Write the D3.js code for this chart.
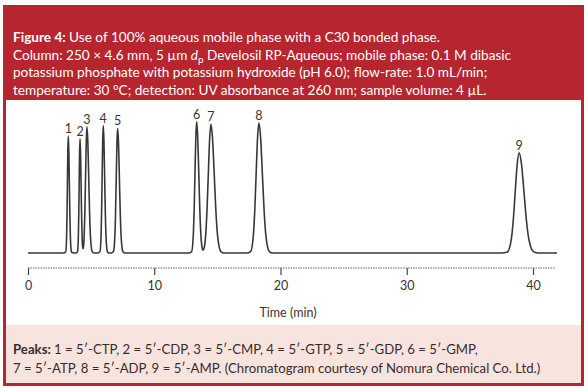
<!DOCTYPE html>
<html>
<head>
<meta charset="utf-8">
<script src="https://cdn.jsdelivr.net/npm/d3@7"></script>
<style>
  body { margin: 0; background: #fff; }
  svg { display: block; }
</style>
</head>
<body>
<div id="chart"></div>
<script>
// trace (time in min, signal in arbitrary units)
var traceTime = [
  0, 2.8,
  2.99, 3.056, 3.09, 3.123, 3.156, 3.19, 3.232, 3.274, 3.316, 3.358, 3.44, 3.55,
  3.8,
  3.92, 3.986, 4.02, 4.053, 4.086, 4.12, 4.162, 4.204, 4.246, 4.288, 4.33, 4.37, 4.40,
  4.45, 4.505, 4.56, 4.615, 4.67, 4.739, 4.808, 4.876, 4.945, 5.083, 5.22,
  5.55,
  5.70, 5.786, 5.83, 5.873, 5.917, 5.96, 6.015, 6.069, 6.124, 6.178, 6.287, 6.40,
  6.6,
  6.77, 6.88, 6.935, 6.99, 7.045, 7.10, 7.169, 7.238, 7.306, 7.375, 7.513, 7.65,
  12.7,
  12.958, 13.092, 13.159, 13.226, 13.293, 13.36, 13.444, 13.528, 13.611, 13.695, 13.78, 13.863, 13.965,
  14.07, 14.175, 14.28, 14.385, 14.49, 14.621, 14.753, 14.884, 15.015, 15.278, 15.54,
  17.3,
  17.63, 17.85, 17.96, 18.07, 18.18, 18.29, 18.428, 18.565, 18.703, 18.84, 19.115, 19.39,
  37.5,
  37.97, 38.28, 38.435, 38.59, 38.745, 38.9, 39.094, 39.288, 39.481, 39.675, 40.063, 40.45,
  41.9
];
var traceSignal = [
  0, 0,
  1.0, 12.2, 29.3, 54.6, 79.4, 90, 79.4, 54.6, 29.3, 12.2, 1.0, 0.2,
  0,
  1.0, 11.9, 28.6, 53.4, 77.6, 88, 77.6, 53.4, 28.6, 11.9, 4.7, 3.3, 5.2,
  13.1, 31.5, 58.9, 85.6, 97, 85.6, 58.9, 31.5, 13.1, 1.1, 0,
  0,
  1.1, 13.3, 31.8, 59.5, 86.4, 98, 86.4, 59.5, 31.8, 13.3, 1.1, 0,
  0,
  1.1, 13.0, 31.2, 58.2, 84.7, 96, 84.7, 58.2, 31.2, 13.0, 1.1, 0,
  0,
  1.1, 13.7, 32.8, 61.3, 89.1, 101, 89.1, 61.3, 32.8, 13.8, 4.7, 2.2, 4.5,
  13.4, 32.1, 60.0, 87.3, 99, 87.3, 60.0, 32.1, 13.4, 1.1, 0,
  0,
  1.1, 13.5, 32.5, 60.7, 88.2, 100, 88.2, 60.7, 32.5, 13.5, 1.1, 0,
  0,
  0.85, 10.4, 25.0, 46.7, 67.9, 77, 67.9, 46.7, 25.0, 10.4, 0.85, 0,
  0
];

var peakLabels = ["1", "2", "3", "4", "5", "6", "7", "8", "9"];
var peakTimes = [3.19, 4.12, 4.67, 5.96, 7.10, 13.36, 14.49, 18.29, 38.9];
var peakHeights = [90, 88, 97, 98, 96, 101, 99, 100, 77];

var xTicks = [0, 10, 20, 30, 40];
var xLabel = "Time (min)";

var captionLines = [
  [{t: "Figure 4: ", b: true}, {t: "Use of 100% aqueous mobile phase with a C30 bonded phase."}],
  [{t: "Column: 250 \u00d7 4.6 mm, 5 \u00b5m "}, {t: "d", i: true}, {t: "p", sub: true},
   {t: " Develosil RP-Aqueous; mobile phase: 0.1 M dibasic"}],
  [{t: "potassium phosphate with potassium hydroxide (pH 6.0); flow-rate: 1.0 mL/min;"}],
  [{t: "temperature: 30 \u00b0C; detection: UV absorbance at 260 nm; sample volume: 4 \u00b5L."}]
];
var footLines = [
  [{t: "Peaks: ", b: true}, {t: "1 = 5\u2032-CTP, 2 = 5\u2032-CDP, 3 = 5\u2032-CMP, 4 = 5\u2032-GTP, 5 = 5\u2032-GDP, 6 = 5\u2032-GMP,"}],
  [{t: "7 = 5\u2032-ATP, 8 = 5\u2032-ADP, 9 = 5\u2032-AMP. (Chromatogram courtesy of Nomura Chemical Co. Ltd.)"}]
];

var W = 585, H = 388;
var red = "#b7252f";
var font = "Lato, 'Open Sans', sans-serif";

var svg = d3.select("#chart").append("svg")
    .attr("width", W)
    .attr("height", H);

svg.append("rect").attr("width", W).attr("height", H).attr("fill", "#fff");

// frame: red header + border, white plot box, pink footer
svg.append("rect")
    .attr("x", 3).attr("y", 5)
    .attr("width", 581).attr("height", 381)
    .attr("fill", red);
svg.append("rect")
    .attr("x", 6).attr("y", 100)
    .attr("width", 575).attr("height", 225)
    .attr("fill", "#fff");
svg.append("rect")
    .attr("x", 6).attr("y", 325)
    .attr("width", 575).attr("height", 58)
    .attr("fill", "#f7e4de");

function writeLines(lines, y0, dy, size, colour) {
  lines.forEach(function(parts, i) {
    var txt = svg.append("text")
        .attr("x", 13)
        .attr("y", y0 + i * dy)
        .attr("font-family", font)
        .attr("font-size", size)
        .attr("fill", colour);
    parts.forEach(function(p) {
      var ts = txt.append("tspan").text(p.t);
      if (p.b) ts.attr("font-weight", "bold");
      if (p.i) ts.attr("font-style", "italic");
      if (p.sub) ts.attr("font-size", size * 0.72).attr("dy", 3);
      else if (p.t.charAt(0) === " " && parts.length > 2) ts.attr("dy", -3);
    });
  });
}

writeLines(captionLines, 42, 17.6, 13.6, "#fff");
writeLines(footLines, 354, 19, 13.2, "#3b2c2c");

// scales
var x = d3.scaleLinear().domain([0, 40]).range([28, 533]);
var y = d3.scaleLinear().domain([0, 100]).range([253, 123]);

var axisY = 268;
var xAxis = d3.axisBottom(x)
    .tickValues(xTicks)
    .tickSize(7)
    .tickSizeOuter(0)
    .tickPadding(6)
    .tickFormat(d3.format("d"));

var gx = svg.append("g")
    .attr("class", "xaxis")
    .attr("transform", "translate(0, " + axisY + ")")
    .call(xAxis);
gx.select(".domain").remove();
gx.append("line")
    .attr("x1", x(0)).attr("x2", x(41.8))
    .attr("stroke", "#6f615f")
    .attr("stroke-width", 1)
    .attr("stroke-dasharray", "1.5,1");
gx.selectAll(".tick line").attr("stroke", "#4a3f3e").attr("stroke-width", 1.2);
gx.selectAll(".tick text")
    .attr("font-family", font)
    .attr("font-size", 12.5)
    .attr("fill", "#3a3232");

svg.append("text")
    .attr("x", 288)
    .attr("y", 317)
    .attr("text-anchor", "middle")
    .attr("font-family", font)
    .attr("font-size", 12.5)
    .attr("fill", "#3a3232")
    .text(xLabel);

// the trace
var pts = d3.zip(traceTime, traceSignal);
var line = d3.line()
    .x(function(d) { return x(d[0]); })
    .y(function(d) { return y(d[1]); })
    .curve(d3.curveMonotoneX);

svg.append("path")
    .datum(pts)
    .attr("d", line)
    .attr("fill", "none")
    .attr("stroke", "#3b3636")
    .attr("stroke-width", 1.6)
    .attr("stroke-linejoin", "round");

// peak numbers
svg.append("g").selectAll("text")
    .data(d3.zip(peakLabels, peakTimes, peakHeights))
    .enter()
    .append("text")
    .attr("x", function(d) { return x(d[1]); })
    .attr("y", function(d) { return y(d[2]) - 3; })
    .attr("text-anchor", "middle")
    .attr("font-family", font)
    .attr("font-size", 12.5)
    .attr("fill", "#3a3232")
    .text(function(d) { return d[0]; });
</script>
</body>
</html>
